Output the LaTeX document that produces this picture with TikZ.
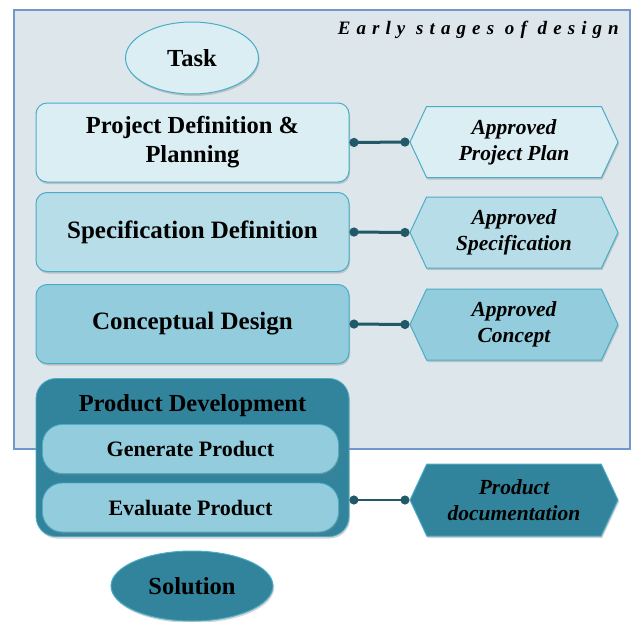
\documentclass[tikz,border=0pt]{standalone}
\usepackage{fontspec}
\setmainfont{Liberation Serif}
\usetikzlibrary{shapes.geometric,shapes.symbols,arrows.meta,shadows}
\definecolor{framefill}{HTML}{DCE6EB}
\definecolor{frameline}{HTML}{7098CA}
\definecolor{lightfill}{HTML}{DAEEF3}
\definecolor{midfill}{HTML}{B7DEE8}
\definecolor{tealfill}{HTML}{93CDDD}
\definecolor{darkfill}{HTML}{31849B}
\definecolor{edgeblue}{HTML}{4BACC6}
\definecolor{connector}{HTML}{215967}
\tikzset{
  shade/.style={drop shadow={opacity=0.35,shadow xshift=1pt,shadow yshift=-2pt}},
  stagebox/.style={draw=edgeblue,line width=1pt,rounded corners=11pt,shade,
    minimum width=313pt,minimum height=79pt,align=center,
    font=\bfseries\fontsize{25}{29}\selectfont},
  subbox/.style={draw=edgeblue,line width=0.8pt,rounded corners=20pt,fill=tealfill,shade,
    minimum width=296pt,minimum height=49pt,
    font=\bfseries\fontsize{22}{24}\selectfont},
  outhex/.style={draw=edgeblue,line width=1pt,shape=signal,signal to=east and west,
    signal pointer angle=130,minimum width=208pt,minimum height=71pt,inner sep=0pt,shade,
    align=center,font=\bfseries\itshape\fontsize{21.5}{26}\selectfont},
  endnode/.style={draw=edgeblue,line width=1pt,ellipse,inner sep=0pt,shade,
    font=\bfseries\fontsize{24.5}{26}\selectfont},
  link/.style={draw=connector,line width=3pt,{Circle[length=9pt,width=9pt]}-{Circle[length=9pt,width=9pt]}}
}
\begin{document}
\begin{tikzpicture}[x=1pt,y=-1pt]
\useasboundingbox (0,0) rectangle (633,622);
\node (frame) [draw=frameline,line width=1.5pt,fill=framefill,minimum width=616pt,minimum height=439pt,inner sep=0pt] at (322,229.5) {};
\node (title) [anchor=east,inner sep=0pt,font=\bfseries\itshape\fontsize{19}{22}\selectfont\addfontfeatures{LetterSpace=32}] at (619,30) {Early stages of design};
\node (task) [endnode,fill=lightfill,minimum width=133pt,minimum height=72pt] at (192,58) {Task};
\node (b1) [stagebox,fill=lightfill,font=\bfseries\fontsize{24.5}{29}\selectfont] at (192.5,142.5) {Project Definition \&\\Planning};
\node (b2) [stagebox,fill=midfill] at (192.5,232) {Specification Definition};
\node (b3) [stagebox,fill=tealfill] at (192.5,324) {Conceptual Design};
\node (h1) [outhex,fill=lightfill] at (514,142) {Approved\\Project Plan};
\node (h2) [outhex,fill=midfill] at (514,232.5) {Approved\\Specification};
\node (h3) [outhex,fill=tealfill] at (514,324.5) {Approved\\Concept};
\node (pd) [draw=edgeblue,line width=0.8pt,fill=darkfill,rounded corners=20pt,shade,minimum width=313pt,minimum height=158pt] at (192.5,457.5) {};
\node (pdt) [font=\bfseries\fontsize{24.5}{26}\selectfont] at (192.5,406) {Product Development};
\node (gen) [subbox] at (190.5,449) {Generate Product};
\node (eva) [subbox] at (190.5,507.5) {Evaluate Product};
\node (h4) [outhex,fill=darkfill,minimum height=72pt] at (514,500) {Product\\documentation};
\node (sol) [endnode,fill=darkfill,minimum width=162pt,minimum height=70pt] at (192,586) {Solution};
\draw[link] (b1.east) -- (h1.west);
\draw[link] (b2.east) -- (h2.west);
\draw[link] (b3.east) -- (h3.west);
\draw[link,line width=2pt] (pd.east |- h4.west) -- (h4.west);
\end{tikzpicture}
\end{document}
